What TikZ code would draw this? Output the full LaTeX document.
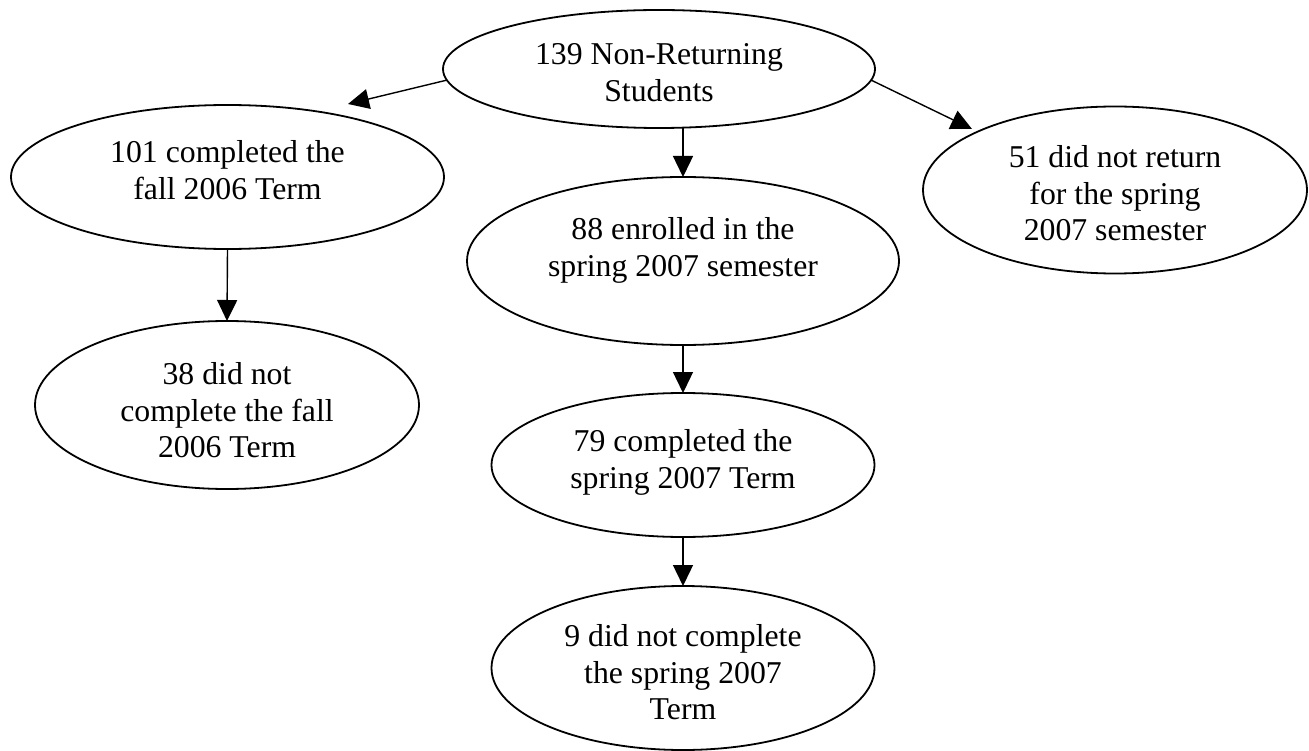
\documentclass[tikz,border=0pt]{standalone}
\usepackage{fontspec}
\setmainfont{Liberation Serif}
\usetikzlibrary{arrows.meta,shapes.geometric}
\newcommand{\lines}[1]{\begin{tabular}[t]{@{}c@{}}#1\end{tabular}}
\begin{document}
\begin{tikzpicture}[x=1pt,y=-1pt,
  ell/.style={draw, ellipse, line width=1.8pt, inner sep=0pt, outer sep=0pt},
  txt/.style={anchor=base, inner sep=0pt, font=\fontsize{31.75}{36.7}\selectfont},
  arr/.style={line width=1.4pt, -{Triangle[length=21pt,width=20pt]}}]
\useasboundingbox (0,0) rectangle (1309,751);
% ellipses
\node[ell, minimum width=432, minimum height=118] (top) at (659,69) {};
\node[ell, minimum width=433, minimum height=144] (fall) at (227.5,177) {};
\node[ell, minimum width=432, minimum height=168] (enr) at (683,261) {};
\node[ell, minimum width=384, minimum height=167] (ret) at (1115,190) {};
\node[ell, minimum width=384, minimum height=168] (nfall) at (227,405) {};
\node[ell, minimum width=383, minimum height=144] (spr) at (683,465) {};
\node[ell, minimum width=383, minimum height=164] (nspr) at (683,668) {};
% texts
\node[txt] (ttop) at (659,64.5) {\lines{139 Non-Returning\\Students}};
\node[txt] (tfall) at (227.5,162.5) {\lines{101 completed the\\fall 2006 Term}};
\node[txt] (tenr) at (683,239.5) {\lines{88 enrolled in the\\spring 2007 semester}};
\node[txt] (tret) at (1115,167.5) {\lines{51 did not return\\for the spring\\2007 semester}};
\node[txt] (tnfall) at (227,384.5) {\lines{38 did not\\complete the fall\\2006 Term}};
\node[txt] (tspr) at (683,451.5) {\lines{79 completed the\\spring 2007 Term}};
\node[txt] (tnspr) at (683,646.5) {\lines{9 did not complete\\the spring 2007\\Term}};
% free ends of the diagonal arrows
\coordinate (lt) at (348,104);
\coordinate (rt) at (972,129);
% connectors
\draw[arr] (top.183) -- (lt);
\draw[arr] (top.-3) -- (rt);
\draw[arr] (enr.north |- top.south) -- (enr.north);
\draw[arr] (fall.south) -- (nfall.north);
\draw[arr] (enr.south) -- (spr.north);
\draw[arr] (spr.south) -- (nspr.north);
\end{tikzpicture}
\end{document}
